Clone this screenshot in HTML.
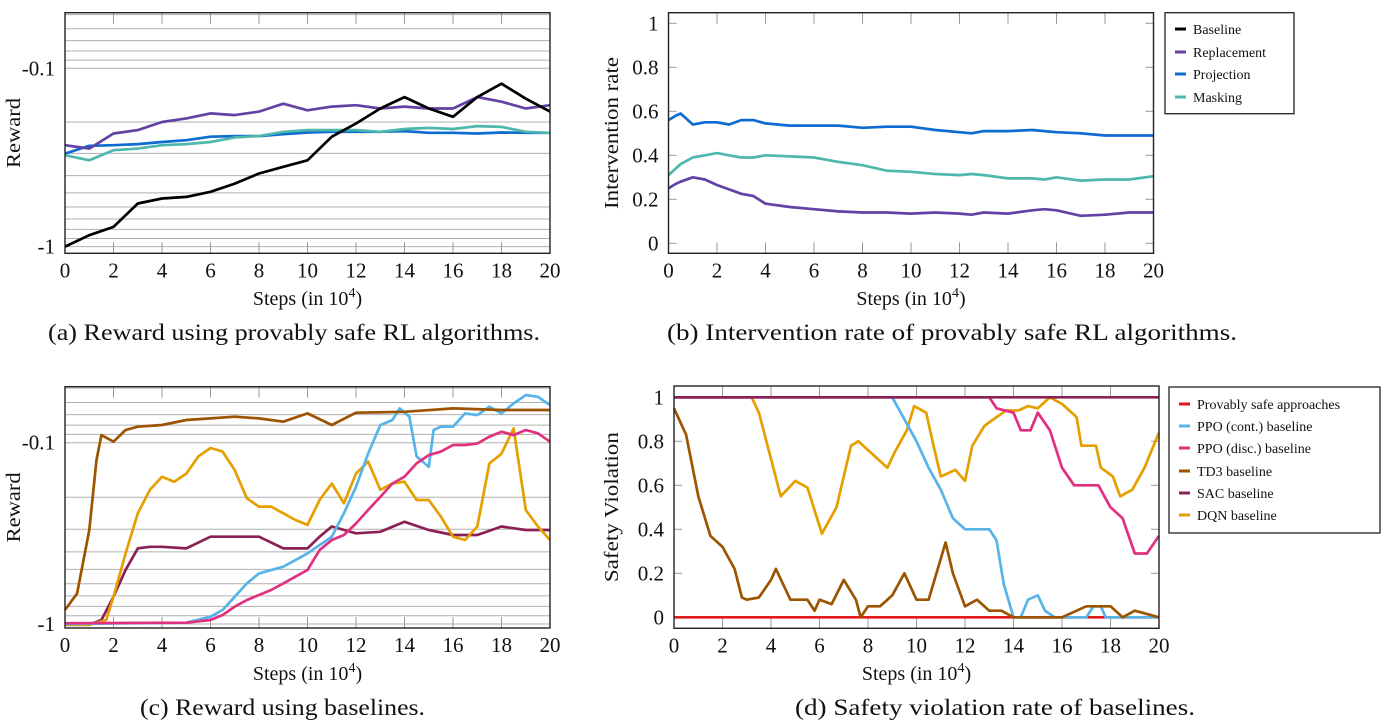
<!DOCTYPE html>
<html><head><meta charset="utf-8"><style>
body{margin:0;background:#fff;}
svg{display:block;font-family:"Liberation Serif",serif;}
</style></head><body>
<svg id="fig" width="1384" height="722" viewBox="0 0 1384 722" xmlns="http://www.w3.org/2000/svg"></svg>
<script>
// ---------- data ----------
const xTicks = [0,2,4,6,8,10,12,14,16,18,20];
const xTickLabels = ['0','2','4','6','8','10','12','14','16','18','20'];
// (a) reward, provably safe
const stepsA = [0,1,2,3,4,5,6,7,8,9,10,11,12,13,14,15,16,17,18,19,20];
const baselineA = [-1.0,-0.863,-0.775,-0.573,-0.537,-0.526,-0.493,-0.443,-0.389,-0.357,-0.328,-0.242,-0.204,-0.168,-0.145,-0.168,-0.187,-0.145,-0.122,-0.148,-0.175];
const replacementA = [-0.270,-0.282,-0.232,-0.222,-0.2,-0.191,-0.179,-0.183,-0.175,-0.158,-0.172,-0.164,-0.161,-0.168,-0.164,-0.168,-0.168,-0.145,-0.154,-0.168,-0.161];
const projectionA = [-0.301,-0.272,-0.270,-0.266,-0.259,-0.253,-0.242,-0.240,-0.240,-0.234,-0.229,-0.227,-0.227,-0.227,-0.225,-0.230,-0.230,-0.232,-0.229,-0.230,-0.230];
const maskingA = [-0.307,-0.328,-0.288,-0.282,-0.270,-0.266,-0.259,-0.244,-0.240,-0.227,-0.222,-0.222,-0.222,-0.227,-0.219,-0.216,-0.219,-0.211,-0.213,-0.227,-0.230];
// (b) intervention rate
const stepsB = [0,0.3,0.5,1,1.5,2,2.5,3,3.5,4,5,6,7,8,9,10,11,12,12.5,13,14,15,15.5,16,17,18,19,20];
const projectionB = [0.56,0.58,0.59,0.54,0.55,0.55,0.54,0.56,0.56,0.545,0.535,0.535,0.535,0.525,0.53,0.53,0.515,0.505,0.5,0.51,0.51,0.515,0.51,0.505,0.5,0.49,0.49,0.49];
const maskingB = [0.31,0.34,0.36,0.39,0.4,0.41,0.4,0.39,0.39,0.4,0.395,0.39,0.37,0.355,0.33,0.325,0.315,0.31,0.315,0.31,0.295,0.295,0.29,0.3,0.285,0.29,0.29,0.305];
const replacementB = [0.25,0.27,0.28,0.3,0.29,0.265,0.245,0.225,0.215,0.18,0.165,0.155,0.145,0.14,0.14,0.135,0.14,0.135,0.13,0.14,0.135,0.15,0.155,0.15,0.125,0.13,0.14,0.14];
// (c) reward, baselines
const stepsTD3C = [0,0.5,1,1.3,1.5,2,2.5,3,4,5,6,7,8,9,10,11,12,14,16,18,20];
const td3C = [-0.837,-0.678,-0.303,-0.1246,-0.0908,-0.0987,-0.0851,-0.0816,-0.0799,-0.075,-0.0734,-0.0719,-0.0734,-0.0766,-0.0689,-0.0799,-0.0683,-0.0675,-0.0647,-0.066,-0.066];
const stepsDQNC = [0,1,1.7,2,2.5,3,3.5,4,4.5,5,5.5,6,6.5,7,7.5,8,8.5,9,9.5,10,10.5,11,11.5,12,12.5,13,13.5,14,14.5,15,15.5,16,16.5,17,17.5,18,18.5,19,19.5,20];
const dqnC = [-1.01,-1.01,-0.95,-0.707,-0.408,-0.245,-0.182,-0.154,-0.164,-0.148,-0.119,-0.107,-0.112,-0.142,-0.203,-0.225,-0.225,-0.245,-0.267,-0.284,-0.207,-0.168,-0.216,-0.148,-0.127,-0.182,-0.168,-0.164,-0.207,-0.207,-0.256,-0.330,-0.344,-0.290,-0.130,-0.115,-0.0834,-0.235,-0.290,-0.344];
const stepsPPOcC = [0,5,6,6.5,7,7.5,8,9,10,11,11.5,12,12.5,13,13.5,13.8,14.2,14.5,15,15.2,15.5,16,16.5,17,17.5,18,18.5,19,19.5,20];
const ppoContC = [-1.0,-0.984,-0.912,-0.837,-0.707,-0.597,-0.526,-0.483,-0.408,-0.330,-0.245,-0.175,-0.115,-0.080,-0.075,-0.0647,-0.0719,-0.119,-0.136,-0.0851,-0.0816,-0.0816,-0.0689,-0.0704,-0.0633,-0.0689,-0.0607,-0.0546,-0.0558,-0.062];
const stepsPPOdC = [0,5,6,6.5,7,7.5,8,8.5,9,10,10.5,11,11.5,12,12.5,13,13.5,14,14.5,15,15.5,16,16.5,17,17.5,18,18.5,19,19.5,20];
const ppoDiscC = [-0.99,-0.984,-0.95,-0.892,-0.802,-0.737,-0.692,-0.649,-0.597,-0.503,-0.391,-0.344,-0.323,-0.279,-0.235,-0.199,-0.168,-0.154,-0.130,-0.117,-0.112,-0.103,-0.103,-0.101,-0.0927,-0.087,-0.0908,-0.0851,-0.0888,-0.0987];
const stepsSACC = [0,1,1.5,2,2.5,3,3.5,4,5,6,7,8,9,10,10.5,11,12,13,14,15,16,17,18,19,20];
const sacC = [-1.01,-1.01,-0.95,-0.707,-0.503,-0.383,-0.375,-0.375,-0.383,-0.330,-0.330,-0.330,-0.383,-0.383,-0.330,-0.290,-0.316,-0.310,-0.273,-0.303,-0.323,-0.323,-0.290,-0.303,-0.303];
// (d) safety violation
const stepsFull = [0,20];
const provablyD = [0,0];
const sacD = [1,1];
const stepsDQND = [0,3.2,3.5,4,4.4,5,5.5,6.1,6.7,7.3,7.6,8.1,8.8,9.1,9.6,9.9,10.4,10.7,11,11.6,12,12.3,12.8,13.3,13.7,14.2,14.6,15,15.5,16,16.6,16.8,17.4,17.6,18.1,18.4,18.9,19.4,20];
const dqnD = [1,1,0.93,0.72,0.55,0.62,0.59,0.38,0.5,0.78,0.8,0.75,0.68,0.75,0.85,0.96,0.93,0.78,0.64,0.67,0.62,0.78,0.87,0.91,0.94,0.94,0.96,0.95,1.0,0.97,0.91,0.78,0.78,0.68,0.64,0.55,0.58,0.68,0.84];
const stepsPPOcD = [0,9,9.5,10,10.5,11,11.5,12,13,13.3,13.6,14,14.3,14.6,15,15.3,15.7,17,17.3,17.6,17.8,20];
const ppoContD = [1,1,0.9,0.8,0.68,0.58,0.45,0.4,0.4,0.35,0.15,0.0,0.0,0.08,0.1,0.03,0.0,0.0,0.05,0.05,0.0,0.0];
const stepsPPOdD = [0,13,13.3,14,14.3,14.7,15,15.5,16,16.5,17.5,18,18.5,19,19.5,20];
const ppoDiscD = [1,1,0.95,0.93,0.85,0.85,0.93,0.85,0.68,0.6,0.6,0.5,0.45,0.29,0.29,0.37];
const stepsTD3D = [0,0.5,1,1.5,2,2.5,2.8,3,3.5,4,4.2,4.8,5.5,5.8,6,6.5,7,7.5,7.7,8,8.5,9,9.5,10,10.5,11.2,11.5,12,12.5,13,13.5,14,16,17,18,18.5,19,20];
const td3D = [0.95,0.83,0.55,0.37,0.32,0.22,0.09,0.08,0.09,0.17,0.22,0.08,0.08,0.03,0.08,0.06,0.17,0.08,0.0,0.05,0.05,0.1,0.2,0.08,0.08,0.34,0.2,0.05,0.08,0.03,0.03,0.0,0.0,0.05,0.05,0.0,0.03,0.0];
const linTicks = [0,0.2,0.4,0.6,0.8,1];
const linTickLabels = ['0','0.2','0.4','0.6','0.8','1'];
const logGrid = [0.05,0.06,0.07,0.08,0.09,0.1,0.2,0.3,0.4,0.5,0.6,0.7,0.8,0.9,1];

// ---------- drawing ----------
const svg = document.getElementById('fig');
const NS = 'http://www.w3.org/2000/svg';
function mk(tag, attrs, parent){ const e=document.createElementNS(NS,tag); for(const k in attrs) e.setAttribute(k,attrs[k]); (parent||svg).appendChild(e); return e; }
function txt(s, x, y, size, anchor, parent){ const t=mk('text',{x:x,y:y,'font-size':size,'text-anchor':anchor||'middle',fill:'#111'},parent); t.textContent=s; return t; }

function makePanel(name, L, R, T, B, yfn, isLog, yTickVals, yTickLabs){
  const g = mk('g',{});
  
  
  const xfn = v => L + (R-L)*v/20;
  if(isLog){
    logGrid.forEach(v=>{ const y=yfn(-v); if(y>=T && y<=B){ const l=mk('line',{x1:L,x2:R,y1:y,y2:y,stroke:'#b0b0b0','stroke-width':1},g);
        } });
  } else {
    yTickVals.forEach(v=>{ const y=yfn(v); mk('line',{x1:L,x2:L+8,y1:y,y2:y,stroke:'#999','stroke-width':1},g); mk('line',{x1:R-8,x2:R,y1:y,y2:y,stroke:'#999','stroke-width':1},g); });
  }
  xTicks.forEach(v=>{ const x=xfn(v); mk('line',{x1:x,x2:x,y1:T,y2:T+11,stroke:'#999','stroke-width':1},g); mk('line',{x1:x,x2:x,y1:B-11,y2:B,stroke:'#999','stroke-width':1},g); });
  xTicks.forEach((v,i)=>{ const t=txt(xTickLabels[i], xfn(v), B+24, 21, 'middle', g);
      });
  yTickVals.forEach((v,i)=>{ const t=txt(yTickLabs[i], L-10, yfn(v)+7, 21, 'end', g);
      });
  return {g, xfn};
}
function drawLine(panel, xs, ys, yfn, color, name){
  const d = xs.map((x,i)=>(i?'L':'M')+panel.xfn(x).toFixed(1)+','+yfn(ys[i]).toFixed(1)).join(' ');
  const p = mk('path',{d:d,fill:'none',stroke:color,'stroke-width':2.7,'stroke-linejoin':'round'},panel.g);
  
  
}
function frame(panel,L,R,T,B){ mk('rect',{x:L,y:T,width:R-L,height:B-T,fill:'none',stroke:'#222','stroke-width':1.4},panel.g); }
function xTitle(g, cx, y){ const t=mk('text',{x:cx,y:y,'font-size':20,'text-anchor':'middle',fill:'#111'},g);
  t.appendChild(document.createTextNode('Steps (in 10'));
  const s=mk('tspan',{dy:-8,'font-size':14},t); s.textContent='4';
  const s2=mk('tspan',{dy:8},t); s2.textContent=')';
    }
function yTitle(g, x, cy, s, len){ const t=mk('text',{x:0,y:0,'font-size':20,'text-anchor':'middle',fill:'#111',transform:`translate(${x},${cy}) rotate(-90)`,textLength:len,lengthAdjust:'spacingAndGlyphs'},g); t.textContent=s;
    }
function caption(s, x1, x2, y, name){ const t=mk('text',{x:x1,y:y,'font-size':23,'text-anchor':'start',fill:'#111',textLength:x2-x1,lengthAdjust:'spacingAndGlyphs'}); t.textContent=s;   }
function legend(name, x, y, w, h, entries, fs){
  const g=mk('g',{});  
  mk('rect',{x:x,y:y,width:w,height:h,fill:'#fff',stroke:'#222','stroke-width':1.3},g);
  entries.forEach(e=>{ const eg=mk('g',{},g);  
    mk('line',{x1:x+10,x2:x+21,y1:e[2],y2:e[2],stroke:e[1],'stroke-width':3},eg); txt(e[0],x+28,e[2]+5,fs,'start',eg); });
}

// Panel (a)
{ const L=65,R=550,T=12.7,B=253.3,yr=68.3,dec=178.3;
  const yfn=v=>yr+dec*Math.log10(Math.abs(v)/0.1);
  const p=makePanel('panel-a-reward',L,R,T,B,yfn,true,[-0.1,-1],['-0.1','-1']);
  drawLine(p,stepsA,projectionA,yfn,'#0d6bd1','line-projection');
  drawLine(p,stepsA,maskingA,yfn,'#4fb8ad','line-masking');
  drawLine(p,stepsA,replacementA,yfn,'#6441a5','line-replacement');
  drawLine(p,stepsA,baselineA,yfn,'#000','line-baseline');
  frame(p,L,R,T,B); xTitle(p.g,(L+R)/2,305); yTitle(p.g,20,(T+B)/2,'Reward',70); }
caption('(a) Reward using provably safe RL algorithms.',48,540,340,'caption-a');

// Panel (b)
{ const L=668.5,R=1153.5,T=12.7,B=253.3;
  const yfn=v=>243.3-220*v;
  const p=makePanel('panel-b-intervention',L,R,T,B,yfn,false,linTicks,linTickLabels);
  drawLine(p,stepsB,projectionB,yfn,'#0d6bd1','line-projection');
  drawLine(p,stepsB,maskingB,yfn,'#4fb8ad','line-masking');
  drawLine(p,stepsB,replacementB,yfn,'#6441a5','line-replacement');
  frame(p,L,R,T,B); xTitle(p.g,(L+R)/2,305); yTitle(p.g,618,(T+B)/2,'Intervention rate',152); }
caption('(b) Intervention rate of provably safe RL algorithms.',667,1237,340,'caption-b');
legend('legend-b',1165,12.7,129,101,[['Baseline','#000',29],['Replacement','#6441a5',52],['Projection','#0d6bd1',74],['Masking','#4fb8ad',97]],14);

// Panel (c)
{ const L=65,R=550,T=386.7,B=628,yr=442.7,dec=181.3;
  const yfn=v=>yr+dec*Math.log10(Math.abs(v)/0.1);
  const p=makePanel('panel-c-reward-baselines',L,R,T,B,yfn,true,[-0.1,-1],['-0.1','-1']);
  drawLine(p,stepsSACC,sacC,yfn,'#8b2257','line-sac');
  drawLine(p,stepsDQNC,dqnC,yfn,'#e69f00','line-dqn');
  drawLine(p,stepsPPOcC,ppoContC,yfn,'#56b4e9','line-ppo-cont');
  drawLine(p,stepsPPOdC,ppoDiscC,yfn,'#e0307f','line-ppo-disc');
  drawLine(p,stepsTD3C,td3C,yfn,'#9c5400','line-td3');
  frame(p,L,R,T,B); xTitle(p.g,(L+R)/2,680); yTitle(p.g,20,(T+B)/2,'Reward',70); }
caption('(c) Reward using baselines.',140,425,715,'caption-c');

// Panel (d)
{ const L=674,R=1159,T=386,B=628.3;
  const yfn=v=>617.3-220*v;
  const p=makePanel('panel-d-safety',L,R,T,B,yfn,false,linTicks,linTickLabels);
  drawLine(p,stepsFull,provablyD,yfn,'#e31a1c','line-provably-safe');
  drawLine(p,stepsDQND,dqnD,yfn,'#e69f00','line-dqn');
  drawLine(p,stepsPPOcD,ppoContD,yfn,'#56b4e9','line-ppo-cont');
  drawLine(p,stepsPPOdD,ppoDiscD,yfn,'#e0307f','line-ppo-disc');
  drawLine(p,stepsTD3D,td3D,yfn,'#9c5400','line-td3');
  drawLine(p,stepsFull,sacD,yfn,'#8b2257','line-sac');
  frame(p,L,R,T,B); xTitle(p.g,(L+R)/2,680); yTitle(p.g,618,(T+B)/2,'Safety Violation',150); }
caption('(d) Safety violation rate of baselines.',795,1195,715,'caption-d');
legend('legend-d',1169,387,211,146,[['Provably safe approaches','#e31a1c',404],['PPO (cont.) baseline','#56b4e9',426],['PPO (disc.) baseline','#e0307f',448],['TD3 baseline','#9c5400',471],['SAC baseline','#8b2257',493],['DQN baseline','#e69f00',515]],14);
</script>
</body></html>
